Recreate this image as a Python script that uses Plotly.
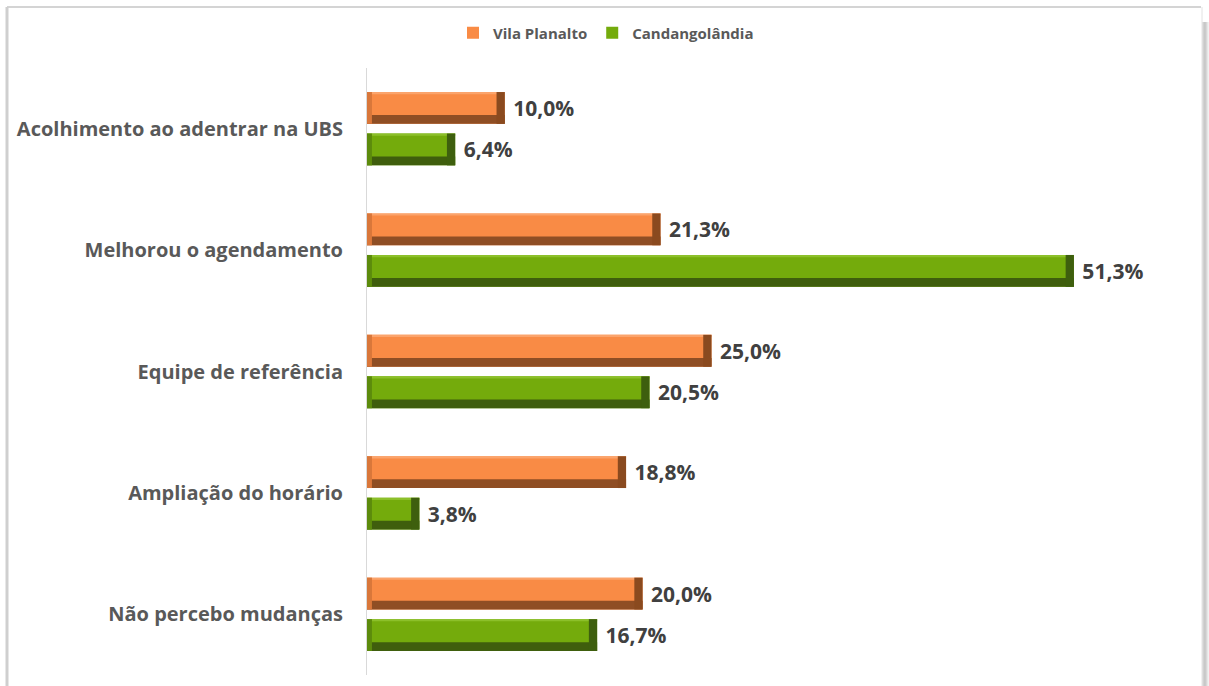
import plotly.graph_objects as go

# Survey answers (percent of respondents)
categories = [
    "Acolhimento ao adentrar na UBS",
    "Melhorou o agendamento",
    "Equipe de referência",
    "Ampliação do horário",
    "Não percebo mudanças",
]
vila_planalto = [10.0, 21.3, 25.0, 18.8, 20.0]
candangolandia = [6.4, 51.3, 20.5, 3.8, 16.7]
series_names = ["Vila Planalto", "Candangolândia"]

W, H = 1209, 686
M_L, M_R, M_T, M_B = 367, 19, 68, 11
PX_PER_UNIT = 13.78
X_MAX = (W - M_L - M_R) / PX_PER_UNIT

# bar geometry in category units
BAR_W = 0.262
OFFSETS = [-0.302, 0.040]
BOTTOM_BAND = 0.072
TOP_BAND = 0.018
END_BEVEL = 0.6
START_BEVEL = 0.36

styles = [
    dict(face="#F98B45", top="#FBA46C", bottom="#8F4E24", end="#8A4A1F", start="#D9773A"),
    dict(face="#74AB0C", top="#8CC02A", bottom="#3F5E0D", end="#3E5F0E", start="#5C8B0C"),
]


def fmt(v):
    return f"{v:.1f}".replace(".", ",") + "%"


fig = go.Figure()
for values, name, off, st in zip([vila_planalto, candangolandia], series_names, OFFSETS, styles):
    n = len(values)
    # bar face with the value label
    fig.add_trace(go.Bar(
        y=categories, x=values, orientation="h", name=name,
        marker=dict(color=st["face"], line=dict(width=0)),
        width=[BAR_W] * n, offset=[off] * n,
        text=[" " + fmt(v) for v in values], textposition="outside",
        textfont=dict(family="Open Sans", size=21, color="#404040", weight="bold"),
        cliponaxis=False, legendgroup=name,
    ))
    # top highlight
    fig.add_trace(go.Bar(
        y=categories, x=values, orientation="h", showlegend=False, hoverinfo="skip",
        marker=dict(color=st["top"], line=dict(width=0)),
        width=[TOP_BAND] * n, offset=[off] * n, legendgroup=name,
    ))
    # darker lower bevel
    fig.add_trace(go.Bar(
        y=categories, x=values, orientation="h", showlegend=False, hoverinfo="skip",
        marker=dict(color=st["bottom"], line=dict(width=0)),
        width=[BOTTOM_BAND] * n, offset=[off + BAR_W - BOTTOM_BAND] * n, legendgroup=name,
    ))
    # left bevel
    fig.add_trace(go.Bar(
        y=categories, x=[START_BEVEL] * n, orientation="h", showlegend=False, hoverinfo="skip",
        marker=dict(color=st["start"], line=dict(width=0)),
        width=[BAR_W] * n, offset=[off] * n, legendgroup=name,
    ))
    # right end bevel
    fig.add_trace(go.Bar(
        y=categories, x=[END_BEVEL] * n, base=[v - END_BEVEL for v in values],
        orientation="h", showlegend=False, hoverinfo="skip",
        marker=dict(color=st["end"], line=dict(width=0)),
        width=[BAR_W] * n, offset=[off] * n, legendgroup=name,
    ))

# outer frame with a soft shadow on the right
plot_w = W - M_L - M_R
plot_h = H - M_T - M_B


def px_x(p):
    return (p - M_L) / plot_w


def px_y(p):
    return (H - M_B - p) / plot_h


shapes = [
    dict(type="line", xref="paper", yref="paper", x0=px_x(7), x1=px_x(1201), y0=px_y(7), y1=px_y(7),
         line=dict(color="#D4D4D4", width=2)),
    dict(type="line", xref="paper", yref="paper", x0=px_x(7), x1=px_x(7), y0=px_y(7), y1=px_y(690),
         line=dict(color="#CFCFCF", width=3)),
]
for i, c in enumerate(["#E2E2E2", "#CDCDCD", "#BDBDBD", "#B3B3B3", "#BDBDBD", "#D0D0D0", "#E4E4E4"]):
    xp = 1202 + i
    shapes.append(dict(type="line", xref="paper", yref="paper", x0=px_x(xp), x1=px_x(xp),
                       y0=px_y(22 if i > 0 else 7), y1=px_y(690), line=dict(color=c, width=1)))

fig.update_layout(
    width=W, height=H,
    margin=dict(l=M_L, r=M_R, t=M_T, b=M_B),
    paper_bgcolor="white", plot_bgcolor="white",
    barmode="overlay",
    font=dict(family="Open Sans", color="#595959"),
    xaxis=dict(range=[0, X_MAX], visible=False, showgrid=False, zeroline=False, fixedrange=True),
    yaxis=dict(
        autorange="reversed", showgrid=False, zeroline=False,
        showline=True, linecolor="#D9D9D9", linewidth=1,
        ticks="", ticklabelstandoff=19,
        tickfont=dict(family="Open Sans", size=20, color="#595959", weight="bold"),
    ),
    legend=dict(
        orientation="h", xanchor="center", yanchor="middle",
        x=px_x(606), y=px_y(33),
        font=dict(family="Open Sans", size=15, color="#595959", weight="bold"),
        itemwidth=30, bgcolor="rgba(0,0,0,0)",
    ),
    shapes=shapes,
    showlegend=True,
)

fig.write_html("out.html")
